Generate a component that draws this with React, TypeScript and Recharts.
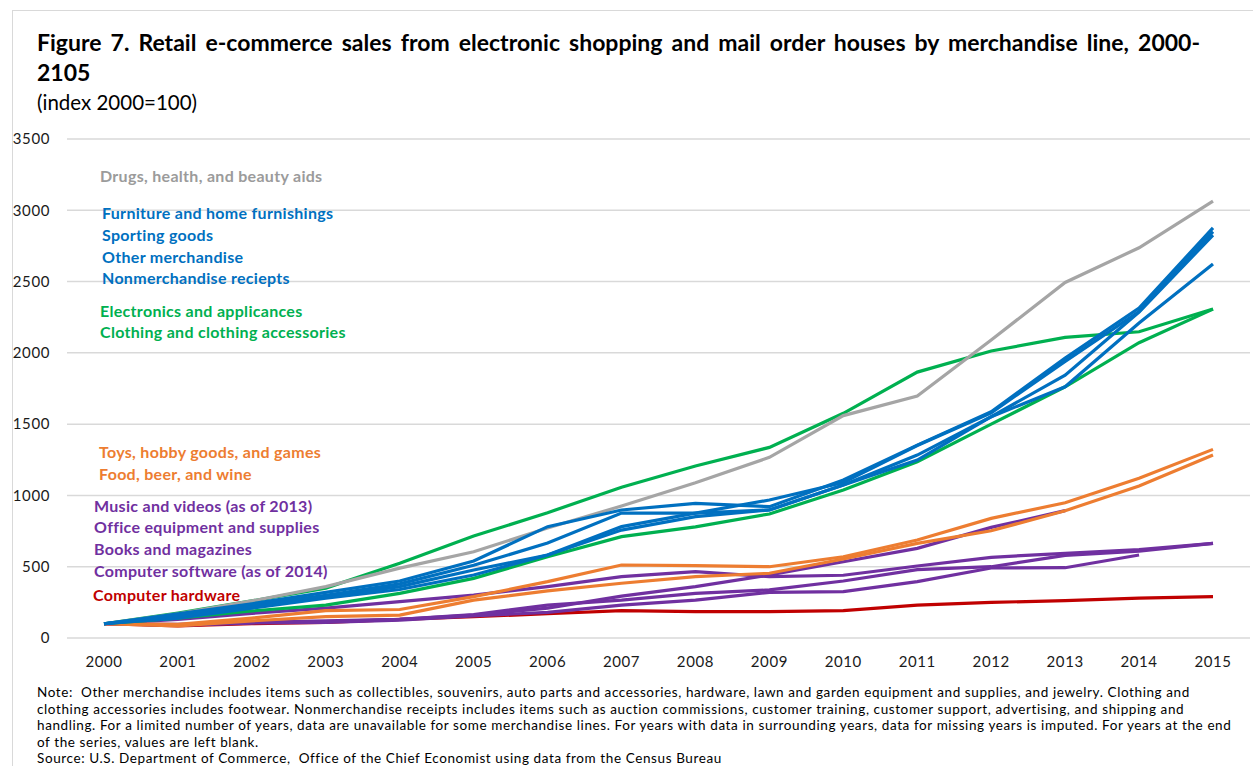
import React from 'react';
import { LineChart, Line, XAxis, YAxis, CartesianGrid } from 'recharts';

const years = ['2000', '2001', '2002', '2003', '2004', '2005', '2006', '2007', '2008', '2009', '2010', '2011', '2012', '2013', '2014', '2015'];
const yTicks = [0, 500, 1000, 1500, 2000, 2500, 3000, 3500];

// index values, 2000 = 100
const drugs = [100, 170, 260, 360, 490, 605, 771, 926, 1089, 1267, 1560, 1697, 2090, 2494, 2737, 3064];
const furniture = [100, 170, 240, 320, 400, 540, 781, 898, 944, 921, 1108, 1353, 1587, 1963, 2314, 2877];
const sporting = [100, 160, 230, 300, 380, 510, 666, 876, 876, 968, 1090, 1350, 1580, 1940, 2290, 2850];
const otherMerch = [100, 150, 220, 290, 360, 477, 582, 781, 876, 898, 1073, 1283, 1552, 1844, 2286, 2826];
const nonmerch = [100, 140, 210, 280, 340, 442, 582, 757, 851, 898, 1073, 1248, 1552, 1762, 2209, 2623];
const electronics = [100, 175, 260, 350, 524, 715, 879, 1057, 1206, 1337, 1576, 1865, 2013, 2108, 2148, 2307];
const clothing = [100, 140, 190, 231, 313, 418, 570, 711, 780, 870, 1038, 1236, 1500, 1762, 2071, 2307];
const toys = [100, 95, 140, 192, 200, 290, 395, 512, 507, 500, 570, 687, 839, 949, 1120, 1323];
const food = [100, 85, 120, 150, 161, 266, 330, 384, 430, 454, 554, 664, 752, 893, 1066, 1283];
const music = [100, 90, 110, 115, 130, 160, 210, 294, 360, 442, 535, 629, 776, 893];
const office = [100, 130, 173, 210, 255, 301, 360, 430, 465, 430, 440, 505, 566, 594, 620, 664];
const books = [100, 95, 110, 120, 130, 165, 231, 266, 313, 337, 400, 480, 500, 580, 610, 664];
const software = [100, 90, 105, 110, 125, 155, 180, 231, 266, 320, 325, 395, 491, 493, 582];
const hardware = [100, 85, 100, 110, 130, 150, 170, 192, 185, 185, 192, 231, 250, 262, 280, 290];

const GRAY = '#a5a5a5';
const BLUE = '#0070c0';
const GREEN = '#00b050';
const ORANGE = '#ed7d31';
const PURPLE = '#7030a0';
const RED = '#c00000';

// drawn in this order (later on top)
const series = [
  { key: 'hardware', name: 'Computer hardware', values: hardware, color: RED },
  { key: 'software', name: 'Computer software (as of 2014)', values: software, color: PURPLE },
  { key: 'books', name: 'Books and magazines', values: books, color: PURPLE },
  { key: 'office', name: 'Office equipment and supplies', values: office, color: PURPLE },
  { key: 'music', name: 'Music and videos (as of 2013)', values: music, color: PURPLE },
  { key: 'food', name: 'Food, beer, and wine', values: food, color: ORANGE },
  { key: 'toys', name: 'Toys, hobby goods, and games', values: toys, color: ORANGE },
  { key: 'clothing', name: 'Clothing and clothing accessories', values: clothing, color: GREEN },
  { key: 'electronics', name: 'Electronics and applicances', values: electronics, color: GREEN },
  { key: 'drugs', name: 'Drugs, health, and beauty aids', values: drugs, color: GRAY },
  { key: 'nonmerch', name: 'Nonmerchandise reciepts', values: nonmerch, color: BLUE },
  { key: 'other', name: 'Other merchandise', values: otherMerch, color: BLUE },
  { key: 'sporting', name: 'Sporting goods', values: sporting, color: BLUE },
  { key: 'furniture', name: 'Furniture and home furnishings', values: furniture, color: BLUE },
];

const data = years.map((year, i) => {
  const row: any = { year };
  series.forEach(s => { row[s.key] = s.values[i] ?? null; });
  return row;
});

// annotation labels placed at the left of the plot
const labels = [
  { text: 'Drugs, health, and beauty aids', color: '#9b9b9b', x: 100, y: 176 },
  { text: 'Furniture and home furnishings', color: BLUE, x: 102, y: 213 },
  { text: 'Sporting goods', color: BLUE, x: 102, y: 235 },
  { text: 'Other merchandise', color: BLUE, x: 102, y: 257 },
  { text: 'Nonmerchandise reciepts', color: BLUE, x: 102, y: 278 },
  { text: 'Electronics and applicances', color: GREEN, x: 100, y: 311 },
  { text: 'Clothing and clothing accessories', color: GREEN, x: 100, y: 332 },
  { text: 'Toys, hobby goods, and games', color: ORANGE, x: 99, y: 452 },
  { text: 'Food, beer, and wine', color: ORANGE, x: 99, y: 474 },
  { text: 'Music and videos (as of 2013)', color: PURPLE, x: 94, y: 506 },
  { text: 'Office equipment and supplies', color: PURPLE, x: 94, y: 527 },
  { text: 'Books and magazines', color: PURPLE, x: 94, y: 549 },
  { text: 'Computer software (as of 2014)', color: PURPLE, x: 94, y: 571 },
  { text: 'Computer hardware', color: RED, x: 93, y: 595 },
];

const noteLines = [
  'Note:  Other merchandise includes items such as collectibles, souvenirs, auto parts and accessories, hardware, lawn and garden equipment and supplies, and jewelry. Clothing and',
  'clothing accessories includes footwear. Nonmerchandise receipts includes items such as auction commissions, customer training, customer support, advertising, and shipping and',
  'handling. For a limited number of years, data are unavailable for some merchandise lines. For years with data in surrounding years, data for missing years is imputed. For years at the end',
  'of the series, values are left blank.',
  'Source: U.S. Department of Commerce,  Office of the Chief Economist using data from the Census Bureau',
];

const font = 'Lato, "Open Sans", sans-serif';
const tickStyle = { fontSize: 15, fill: '#1a1a1a', fontFamily: font, letterSpacing: 0.6 };

export default function App() {
  return (
    <div style={{ position: 'absolute', left: 0, top: 0, width: 1253, height: 766, background: '#fff', overflow: 'hidden', fontFamily: font }}>
      <div style={{ position: 'absolute', left: 12, top: 10, width: 1300, height: 800, border: '1px solid #d9d9d9' }} />

      <div style={{ position: 'absolute', left: 37, top: 27, width: 1163, fontSize: 23, fontWeight: 700, color: '#000', textAlign: 'justify', textAlignLast: 'justify', whiteSpace: 'nowrap', lineHeight: '30px' }}>
        Figure 7. Retail e-commerce sales from electronic shopping and mail order houses by merchandise line, 2000-
      </div>
      <div style={{ position: 'absolute', left: 37, top: 57, fontSize: 23, fontWeight: 700, color: '#000', lineHeight: '30px' }}>2105</div>
      <div style={{ position: 'absolute', left: 37, top: 89, fontSize: 20.5, color: '#000', lineHeight: '26px' }}>(index 2000=100)</div>

      <div style={{ position: 'absolute', left: 0, top: 0 }}>
        <LineChart width={1253} height={680} data={data} margin={{ top: 139, right: 3, left: 0, bottom: 12 }}>
          <CartesianGrid vertical={false} stroke="#d9d9d9" strokeWidth={1.5} />
          <XAxis
            dataKey="year"
            padding={{ left: 37, right: 37 }}
            axisLine={false}
            tickLine={false}
            tickSize={0}
            tickMargin={18}
            height={30}
            interval={0}
            tick={tickStyle}
          />
          <YAxis
            domain={[0, 3500]}
            ticks={yTicks}
            width={67}
            axisLine={false}
            tickLine={false}
            tickSize={0}
            tickMargin={17}
            tick={tickStyle}
          />
          {series.map(s => (
            <Line
              key={s.key}
              type="linear"
              dataKey={s.key}
              name={s.name}
              stroke={s.color}
              strokeWidth={3.2}
              dot={false}
              activeDot={false}
              isAnimationActive={false}
            />
          ))}
        </LineChart>
      </div>

      {labels.map(l => (
        <div key={l.text} style={{ position: 'absolute', left: l.x, top: l.y - 10, lineHeight: '20px', fontSize: 16, letterSpacing: 0.3, fontWeight: 700, color: l.color, whiteSpace: 'nowrap' }}>
          {l.text}
        </div>
      ))}

      <div style={{ position: 'absolute', left: 37, top: 684, fontSize: 13.5, letterSpacing: 0.6, color: '#000', lineHeight: '16.5px' }}>
        {noteLines.map((t, i) => (
          <div key={i} style={{ whiteSpace: 'pre' }}>{t}</div>
        ))}
      </div>
    </div>
  );
}
